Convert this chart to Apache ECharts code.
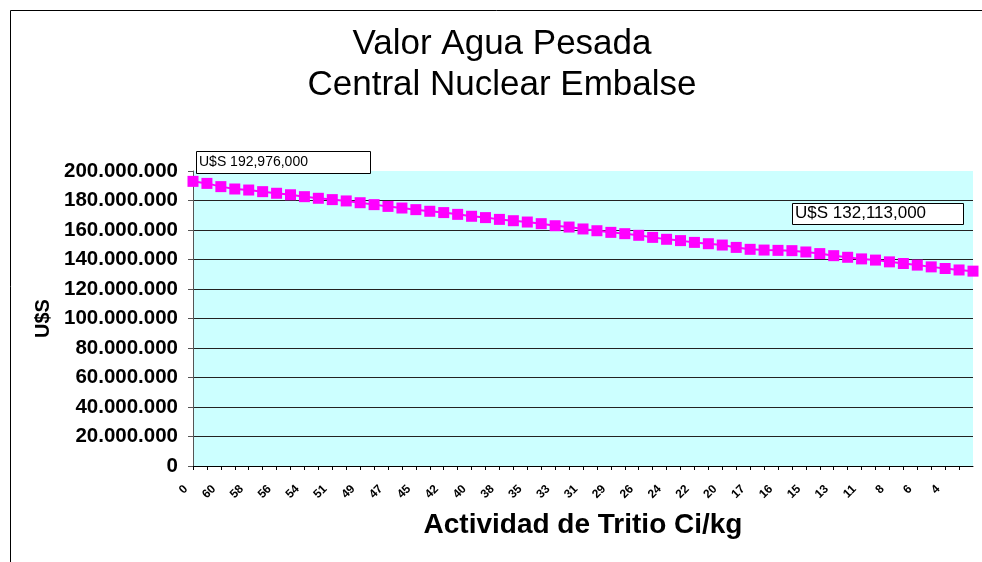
<!DOCTYPE html>
<html>
<head>
<meta charset="utf-8">
<script src="https://cdn.jsdelivr.net/npm/echarts@6/dist/echarts.min.js"></script>
<style>
  html, body { margin: 0; padding: 0; background: #fff; }
  #chart { width: 982px; height: 562px; }
</style>
</head>
<body>
<div id="chart"></div>
<script>
// actividad de tritio (Ci/kg), se muestra una de cada dos
const categorias = ['0', '61', '60', '59', '58', '57', '56', '55', '54', '52',
  '51', '50', '49', '48', '47', '46', '45', '43', '42', '41',
  '40', '39', '38', '36', '35', '34', '33', '32', '31', '30',
  '29', '27', '26', '25', '24', '23', '22', '21', '20', '18',
  '17', '16', '16', '15', '15', '14', '13', '12', '11', '9',
  '8', '7', '6', '5', '4', '3', '2'];

// valor agua pesada en U$S
const valores = [192976000, 191600000, 189400000, 187800000, 187100000, 186000000, 184900000, 183900000, 182600000, 181500000,
  180600000, 179700000, 178500000, 177200000, 176000000, 174900000, 173800000, 172700000, 171800000, 170600000,
  169300000, 168400000, 167200000, 166300000, 165400000, 164300000, 162900000, 162000000, 160700000, 159500000,
  158400000, 157500000, 156400000, 155000000, 153700000, 152800000, 151600000, 150700000, 149800000, 148200000,
  146900000, 146400000, 146200000, 146000000, 145100000, 144000000, 142600000, 141500000, 140400000, 139600000,
  138400000, 137300000, 136200000, 135000000, 133900000, 132900000, 132113000];

const yMin = 0, yMax = 200000000, yPaso = 20000000;
const notaInicio = 'U$S 192,976,000';
const notaFin = 'U$S 132,113,000';

const fuente = '"Liberation Sans", Arial, sans-serif';

function conPuntos(v) {
  return String(v).replace(/\B(?=(\d{3})+(?!\d))/g, '.');
}

const myChart = echarts.init(document.getElementById('chart'));
const option = {
  backgroundColor: '#fff',
  animation: false,
  title: {
    text: 'Valor Agua Pesada\nCentral Nuclear Embalse',
    left: 497,
    top: 19,
    textAlign: 'center',
    textStyle: {
      fontFamily: fuente,
      fontSize: 35,
      fontWeight: 'normal',
      color: '#000',
      lineHeight: 41
    }
  },
  grid: {
    left: 193,
    right: 9,
    top: 171,
    bottom: 96,
    show: true,
    backgroundColor: '#CCFFFF',
    borderWidth: 0
  },
  xAxis: {
    type: 'category',
    data: categorias,
    boundaryGap: false,
    name: 'Actividad de Tritio Ci/kg',
    nameLocation: 'middle',
    nameGap: 45,
    nameTextStyle: { fontFamily: fuente, fontSize: 28, fontWeight: 'bold', color: '#000' },
    axisLine: { lineStyle: { color: '#000', width: 1 } },
    axisTick: { show: true, interval: 0, length: 4, lineStyle: { color: '#000' } },
    axisLabel: {
      interval: 1,
      rotate: 45,
      margin: 14,
      padding: [0, 10, 0, 0],
      showMaxLabel: false,
      fontFamily: fuente,
      fontSize: 12,
      fontWeight: 'bold',
      color: '#000'
    },
    splitLine: { show: false }
  },
  yAxis: {
    type: 'value',
    min: yMin,
    max: yMax,
    interval: yPaso,
    name: 'U$S',
    nameLocation: 'middle',
    nameGap: 136,
    nameRotate: 90,
    nameTextStyle: { fontFamily: fuente, fontSize: 20, fontWeight: 'bold', color: '#000' },
    axisLine: { show: true, lineStyle: { color: '#555', width: 1 } },
    axisTick: { show: true, length: 5, lineStyle: { color: '#555' } },
    axisLabel: {
      margin: 15,
      fontFamily: fuente,
      fontSize: 20.5,
      fontWeight: 'bold',
      color: '#000',
      formatter: conPuntos
    },
    splitLine: { show: true, showMaxLine: false, lineStyle: { color: '#222', width: 1 } }
  },
  series: [
    {
      type: 'line',
      data: valores,
      symbol: 'rect',
      symbolSize: 11,
      showAllSymbol: true,
      lineStyle: { color: '#FF00FF', width: 2 },
      itemStyle: { color: '#FF00FF', borderWidth: 0 }
    }
  ],
  graphic: [
    {
      type: 'rect',
      left: 8, top: 8,
      shape: { width: 1000, height: 600 },
      style: { fill: 'none', stroke: '#000', lineWidth: 1 },
      silent: true
    },
    {
      type: 'rect',
      left: 196, top: 151,
      shape: { width: 174, height: 22 },
      style: { fill: '#fff', stroke: '#000', lineWidth: 1 },
      z: 10
    },
    {
      type: 'text',
      left: 199, top: 155,
      style: { text: notaInicio, font: '14px ' + fuente, fill: '#000' },
      z: 11
    },
    {
      type: 'rect',
      left: 792, top: 203,
      shape: { width: 171, height: 21 },
      style: { fill: '#fff', stroke: '#000', lineWidth: 1 },
      z: 10
    },
    {
      type: 'text',
      left: 795, top: 205,
      style: { text: notaFin, font: '17px ' + fuente, fill: '#000' },
      z: 11
    }
  ]
};
myChart.setOption(option);
</script>
</body>
</html>
